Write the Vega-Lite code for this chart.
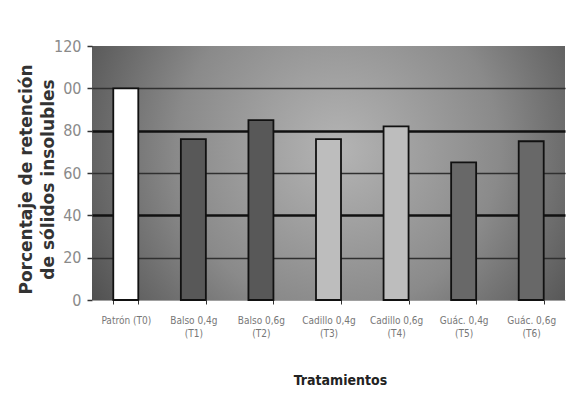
{
  "$schema": "https://vega.github.io/schema/vega-lite/v6.json",
  "width": 473,
  "height": 254,
  "autosize": {"type": "none"},
  "padding": {"left": 92, "top": 46, "right": 9, "bottom": 111},
  "background": "white",
  "config": {
    "view": {
      "stroke": null,
      "fill": {
        "gradient": "radial",
        "x1": 0.52, "y1": 0.45, "r1": 0,
        "x2": 0.52, "y2": 0.45, "r2": 0.62,
        "stops": [
          {"offset": 0, "color": "#b4b4b4"},
          {"offset": 0.55, "color": "#8a8a8a"},
          {"offset": 1, "color": "#4e4e4e"}
        ]
      }
    }
  },
  "data": {
    "values": [
      {"tratamiento": "Patrón (T0)", "retencion": 100, "grupo": "patron"},
      {"tratamiento": "Balso 0,4g (T1)", "retencion": 76, "grupo": "balso"},
      {"tratamiento": "Balso 0,6g (T2)", "retencion": 85, "grupo": "balso"},
      {"tratamiento": "Cadillo 0,4g (T3)", "retencion": 76, "grupo": "cadillo"},
      {"tratamiento": "Cadillo 0,6g (T4)", "retencion": 82, "grupo": "cadillo"},
      {"tratamiento": "Guác. 0,4g (T5)", "retencion": 65, "grupo": "guac"},
      {"tratamiento": "Guác. 0,6g (T6)", "retencion": 75, "grupo": "guac"}
    ]
  },
  "mark": {"type": "bar", "stroke": "#111111", "strokeWidth": 1.8},
  "encoding": {
    "x": {
      "field": "tratamiento",
      "type": "nominal",
      "sort": null,
      "scale": {"paddingInner": 0.63, "paddingOuter": 0.315},
      "axis": {
        "title": "Tratamientos",
        "titleFont": "DejaVu Sans Condensed",
        "titleFontSize": 14,
        "titleFontWeight": "bold",
        "titleColor": "#222222",
        "titlePadding": 35,
        "titleX": 248,
        "labelAngle": 0,
        "labelFont": "DejaVu Sans Condensed",
        "labelFontSize": 10,
        "labelColor": "#777777",
        "labelPadding": 11,
        "labelLineHeight": 13,
        "labelExpr": "datum.label == 'Patrón (T0)' ? datum.label : split(replace(datum.label, ' (', '\\n('), '\\n')",
        "tickBand": "extent",
        "tickSize": 4,
        "tickColor": "#333333",
        "tickWidth": 1,
        "domainColor": "#a0a0a0",
        "domainWidth": 1
      }
    },
    "y": {
      "field": "retencion",
      "type": "quantitative",
      "scale": {"domain": [0, 120]},
      "axis": {
        "values": [0, 20, 40, 60, 80, 100, 120],
        "title": ["Porcentaje de retención", "de sólidos insolubles"],
        "titleFont": "DejaVu Sans",
        "titleFontSize": 17,
        "titleFontWeight": "bold",
        "titleColor": "#333333",
        "titleAngle": -90,
        "titleAnchor": null,
        "titleBaseline": "middle",
        "titleAlign": "center",
        "titleX": -66,
        "titleY": 133,
        "titleLineHeight": 22,
        "labelFont": "DejaVu Sans Condensed",
        "labelFontSize": 16,
        "labelColor": "#8a8a8a",
        "labelPadding": 6,
        "labelExpr": "datum.value == 100 ? '00' : datum.label",
        "tickSize": 5,
        "tickColor": "#333333",
        "tickWidth": 1.5,
        "domain": false,
        "grid": true,
        "gridColor": {"condition": {"test": "datum.value == 40 || datum.value == 80", "value": "#111111"}, "value": "#303030"},
        "gridWidth": {"condition": {"test": "datum.value == 40 || datum.value == 80", "value": 2.5}, "value": 1.5},
        "gridOpacity": {"condition": {"test": "datum.value == 120 || datum.value == 0", "value": 0}, "value": 1}
      }
    },
    "color": {
      "field": "tratamiento",
      "type": "nominal",
      "sort": null,
      "scale": {"range": ["#ffffff", "#585858", "#585858", "#bdbdbd", "#bdbdbd", "#686868", "#686868"]},
      "legend": null
    }
  }
}
